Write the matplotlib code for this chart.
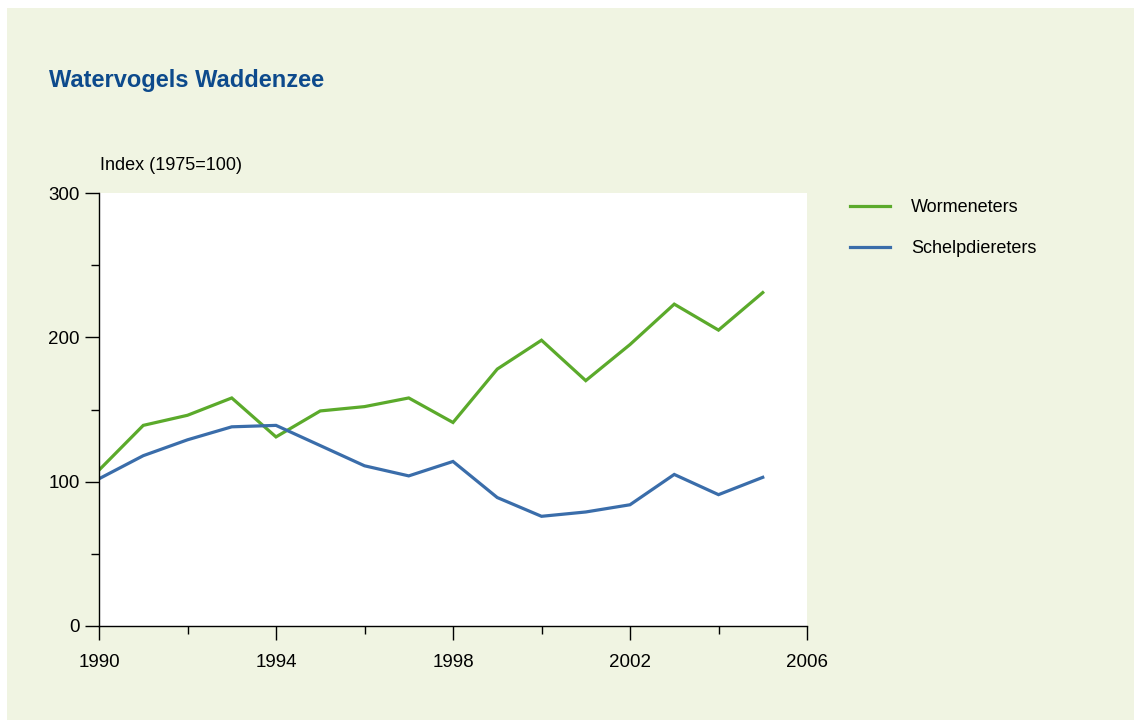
import matplotlib.pyplot as plt
from matplotlib.patches import Rectangle

plt.rcParams["font.family"] = ["Liberation Sans", "DejaVu Sans"]

years = list(range(1990, 2006))
wormeneters = [108, 139, 146, 158, 131, 149, 152, 158, 141, 178, 198, 170, 195, 223, 205, 231]
schelpdiereters = [102, 118, 129, 138, 139, 125, 111, 104, 114, 89, 76, 79, 84, 105, 91, 103]
x_major = [1990, 1994, 1998, 2002, 2006]
x_minor = [1992, 1996, 2000, 2004]
y_major = [0, 100, 200, 300]
y_minor = [50, 150, 250]

panel_bg = "#F0F4E2"
green = "#5BAA2B"
blue = "#3A6DAA"

fig = plt.figure(figsize=(11.34, 7.2), dpi=100, facecolor="white")
fig.patches.append(Rectangle((7 / 1134, 0), 1, 1 - 8 / 720, transform=fig.transFigure,
                             facecolor=panel_bg, edgecolor="none", zorder=-10))

ax = fig.add_axes([99 / 1134, 1 - 626 / 720, (807 - 99) / 1134, (626 - 193) / 720])
ax.set_facecolor("white")
ax.plot(years, wormeneters, color=green, lw=2.3, label="Wormeneters", solid_joinstyle="miter")
ax.plot(years, schelpdiereters, color=blue, lw=2.3, label="Schelpdiereters", solid_joinstyle="miter")

ax.set_xlim(1990, 2006)
ax.set_ylim(0, 300)
ax.set_xticks(x_major)
ax.set_xticks(x_minor, minor=True)
ax.set_yticks(y_major)
ax.set_yticks(y_minor, minor=True)
for side in ("top", "right"):
    ax.spines[side].set_visible(False)
for side in ("left", "bottom"):
    ax.spines[side].set_linewidth(1.0)
ax.tick_params(which="major", length=10, width=1.0, labelsize=13.5, pad=4)
ax.tick_params(axis="x", which="major", pad=10)
ax.tick_params(which="minor", length=6, width=1.0)

fig.text(49 / 1134, 1 - 80 / 720, "Watervogels Waddenzee", fontsize=17, fontweight="bold",
         color="#0D4A8C", va="center", ha="left")
fig.text(100 / 1134, 1 - 165 / 720, "Index (1975=100)", fontsize=13, va="center", ha="left")

fig.legend(loc="upper left", bbox_to_anchor=(850 / 1134, 1 - 199 / 720), frameon=False,
           fontsize=13, handlelength=2.2, handletextpad=1.2, labelspacing=1.35,
           borderpad=0, borderaxespad=0)

fig.savefig("out.png", dpi=100, facecolor=fig.get_facecolor())
